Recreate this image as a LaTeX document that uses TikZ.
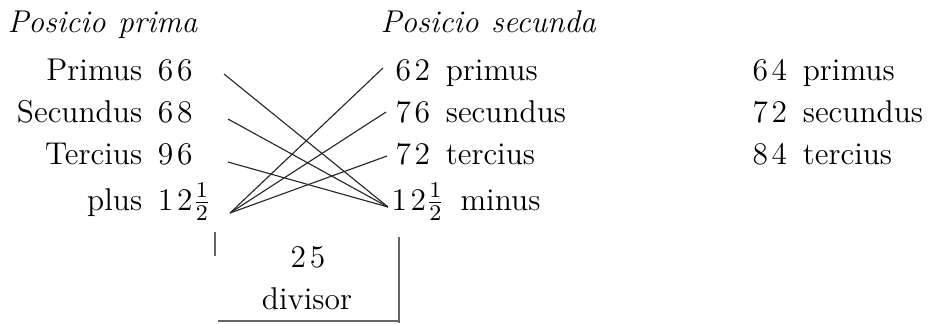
\documentclass[tikz,border=0pt]{standalone}
\newcommand{\tw}[2]{#1\kern1.3pt#2}
\newcommand{\wsp}{\hspace{0.5em}}
\begin{document}
\begin{tikzpicture}[x=0.0125cm,y=-0.0125cm,
  rowtext/.style={inner sep=0pt, font=\fontsize{11.2}{13}\selectfont},
  cross/.style={line width=0.4pt, black!85},
  bracket/.style={line width=0.4pt, black!60}]
\useasboundingbox (0,0) rectangle (931,323);

% Posicio prima
\node[rowtext, anchor=base west] (hA) at (7,32) {\textit{Posicio\hspace{0.4em}prima}};
\node[rowtext, anchor=base east] (a1) at (193,80) {Primus\wsp\tw66};
\node[rowtext, anchor=base east] (a2) at (193,122) {Secundus\wsp\tw68};
\node[rowtext, anchor=base east] (a3) at (193,164) {Tercius\wsp\tw96};
\node[rowtext, anchor=base east] (a4) at (193,210) {plus\wsp\tw12\rlap{$\frac{1}{2}$}};

% Posicio secunda
\node[rowtext, anchor=base west] (hB) at (380,32) {\textit{Posicio\hspace{0.4em}secunda}};
\node[rowtext, anchor=base west] (b1) at (395,80) {\tw62\wsp primus};
\node[rowtext, anchor=base west] (b2) at (395,122) {\tw76\wsp secundus};
\node[rowtext, anchor=base west] (b3) at (395,164) {\tw72\wsp tercius};
\node[rowtext, anchor=base west] (b4) at (391,210) {\tw12$\frac{1}{2}$\wsp minus};

% third column
\node[rowtext, anchor=base west] (c1) at (752,80) {\tw64\wsp primus};
\node[rowtext, anchor=base west] (c2) at (752,122) {\tw72\wsp secundus};
\node[rowtext, anchor=base west] (c3) at (752,164) {\tw84\wsp tercius};

% line ends
\coordinate (s1) at (224,74);
\coordinate (s2) at (228,119);
\coordinate (s3) at (228,162);
\coordinate (sP) at (230,213);
\coordinate (t1) at (383,68);
\coordinate (t2) at (386,112);
\coordinate (t3) at (387,156);
\coordinate (tM) at (388,207);

\foreach \i in {1,2,3}{
  \draw[cross] (s\i) -- (tM);
  \draw[cross] (sP) -- (t\i);
}

% divisor
\node[rowtext, anchor=base] (d1) at (308,267) {\tw25};
\node[rowtext, anchor=base] (d2) at (307,309) {divisor};
\coordinate (k1) at (215,232);
\coordinate (k2) at (215,256);
\coordinate (k3) at (218,321);
\coordinate (k4) at (399,321);
\coordinate (k5) at (399,237);
\coordinate (k6) at (399,323);
\draw[bracket] (k1) -- (k2);
\draw[bracket] (k3) -- (k4);
\draw[bracket] (k5) -- (k6);

\end{tikzpicture}
\end{document}
